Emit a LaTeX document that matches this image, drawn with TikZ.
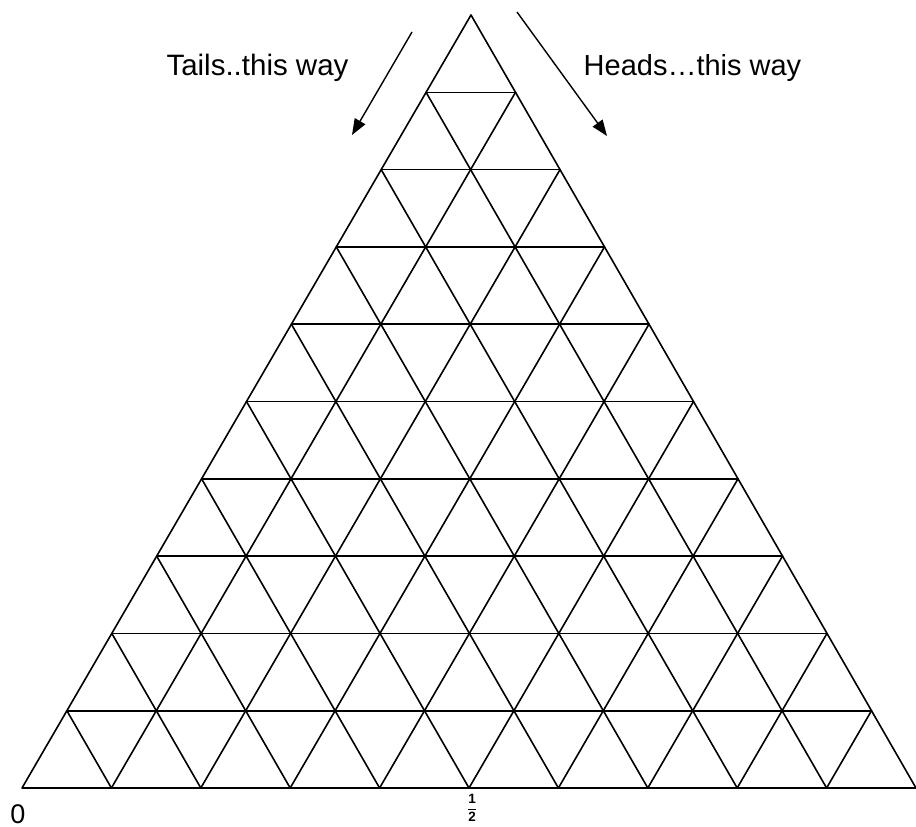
\documentclass[tikz,border=0pt]{standalone}
\usepackage{fontspec}
\setmainfont{Liberation Sans}
\usetikzlibrary{calc,arrows.meta}
\begin{document}
\begin{tikzpicture}[x=1pt,y=-1pt,
  grid/.style={line width=1.6pt,line cap=round,line join=round},
  arr/.style={line width=1.4pt,-{Triangle[length=16pt,width=12pt]}},
  lbl/.style={font=\fontsize{29}{32}\selectfont,inner sep=0pt,anchor=base}]
\useasboundingbox (0,0) rectangle (916,827);
\coordinate (A) at (471,15);
\coordinate (B) at (22,788);
\coordinate (C) at (916,788);
\foreach \i in {0,...,10}{
  \pgfmathtruncatemacro{\jmax}{10-\i}
  \foreach \j in {0,...,\jmax}{
    \coordinate (p-\i-\j) at ($(B)!\i/10!(C) + \j/10*($(A)-(B)$)$);
  }
}
% outer triangle
\draw[grid] (p-0-0) -- (p-10-0) -- (p-0-10) -- cycle;
\foreach \k in {1,...,9}{
  \pgfmathtruncatemacro{\m}{10-\k}
  \draw[grid] (p-0-\k) -- (p-\m-\k);
  \draw[grid] (p-\k-0) -- (p-\k-\m);
  \draw[grid] (p-\k-0) -- (p-0-\k);
}
% arrows
\coordinate (t1) at (412,32);
\coordinate (t2) at (352,135);
\coordinate (h1) at (517,12);
\coordinate (h2) at (607,136);
\draw[arr] (t1) -- (t2);
\draw[arr] (h1) -- (h2);
\node[lbl,font=\fontsize{29.5}{32}\selectfont] (tails) at (257.5,75) {Tails..this way};
\node[lbl] (heads) at (692.5,75) {Heads…this way};
\node[lbl,font=\fontsize{27}{30}\selectfont] (zero) at (18,823) {0};
\node[inner sep=0pt,scale=1.35] (half) at (472,808) {$\displaystyle\frac{\textbf{1}}{\textbf{2}}$};
\end{tikzpicture}
\end{document}
